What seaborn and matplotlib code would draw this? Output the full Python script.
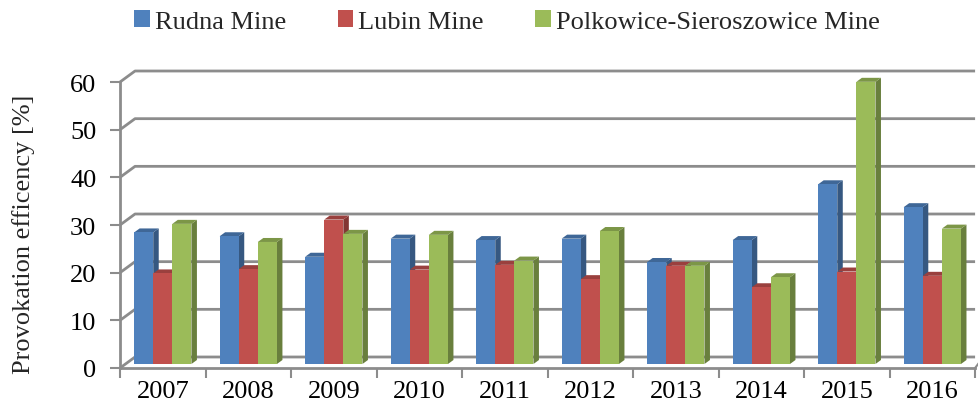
import numpy as np
import pandas as pd
import matplotlib
matplotlib.use("Agg")
import matplotlib.pyplot as plt
import matplotlib.colors as mcolors
import matplotlib.transforms as mtransforms
from matplotlib.patches import Polygon
import seaborn as sns

# values
years = ["2007", "2008", "2009", "2010", "2011", "2012", "2013", "2014", "2015", "2016"]
rudna = [27.6, 26.8, 22.5, 26.3, 26.0, 26.3, 21.4, 26.0, 37.7, 32.9]
lubin = [19.0, 19.9, 30.3, 19.8, 20.8, 17.8, 20.6, 16.1, 19.4, 18.5]
polkowice = [29.4, 25.6, 27.3, 27.1, 21.7, 27.9, 20.6, 18.2, 59.2, 28.4]
mines = ["Rudna Mine", "Lubin Mine", "Polkowice-Sieroszowice Mine"]
colors = ["#4F81BD", "#C0504D", "#9BBB59"]

df = pd.DataFrame({
    "year": years * 3,
    "mine": np.repeat(mines, len(years)),
    "value": rudna + lubin + polkowice,
})

sns.set_theme(style="white")
plt.rcParams["font.family"] = ["Liberation Serif", "DejaVu Serif"]

fig = plt.figure(figsize=(9.79, 4.14), dpi=100)
ax = fig.add_axes([0.1226, 0.1087, 0.8734, 0.6908])

sns.barplot(data=df, x="year", y="value", hue="mine", palette=colors,
            width=0.67, saturation=1, ax=ax, legend=True, linewidth=0)

ax.set_ylim(0, 60)
ax.set_xlim(-0.5, len(years) - 0.5)

# bars stand a little behind the front edge of the floor
lift = mtransforms.ScaledTranslation(0, 4 / 100, fig.dpi_scale_trans)
bar_tr = ax.transData + lift

# fake 3D depth for each bar: side and top faces from the patch geometry
ppx = 855 / len(years)       # pixels per category
ppy = ax.bbox.height / 60    # pixels per unit
dx = 5.5 / ppx
dy = 4.0 / ppy
for bar in list(ax.patches):
    h = bar.get_height()
    if h <= 0:
        continue
    x0 = bar.get_x()
    w = bar.get_width()
    c = np.array(mcolors.to_rgb(bar.get_facecolor()))
    side = Polygon([(x0 + w, 0), (x0 + w + dx, dy), (x0 + w + dx, h + dy), (x0 + w, h)],
                   closed=True, facecolor=c * 0.68, edgecolor="none", zorder=2.5,
                   clip_on=False, transform=bar_tr)
    top = Polygon([(x0, h), (x0 + dx, h + dy), (x0 + w + dx, h + dy), (x0 + w, h)],
                  closed=True, facecolor=c * 0.8, edgecolor="none", zorder=2.6,
                  clip_on=False, transform=bar_tr)
    ax.add_patch(side)
    ax.add_patch(top)
    bar.set_transform(bar_tr)
    bar.set_clip_on(False)
    bar.set_zorder(2.7)

# back wall gridlines with the oblique start
grid_col = "#8C8C8C"
wx = 15 / ax.bbox.width
wy = 11 / ppy
ytr = ax.get_yaxis_transform()
for v in range(0, 61, 10):
    ax.plot([0, wx, 1], [v, v + wy, v + wy], color=grid_col, lw=2,
            transform=ytr, clip_on=False, zorder=1, solid_capstyle="butt")
ax.plot([1, 1 + 5 / ax.bbox.width], [0, wy * 0.6], color=grid_col, lw=1.5,
        transform=ytr, clip_on=False, zorder=1)

for s in ["top", "right"]:
    ax.spines[s].set_visible(False)
for s in ["left", "bottom"]:
    ax.spines[s].set_color(grid_col)
    ax.spines[s].set_linewidth(2)

ax.set_yticks(range(0, 61, 10))
ax.tick_params(axis="y", length=7, width=1.5, color=grid_col, direction="out",
               pad=10, labelsize=19, labelcolor="black", left=True)
ax.set_xticks(np.arange(-0.5, len(years), 1), minor=True)
ax.tick_params(axis="x", which="major", length=0, pad=9, labelsize=19, labelcolor="black")
ax.tick_params(axis="x", which="minor", length=7, width=1.5, color=grid_col,
               direction="out", bottom=True)

ax.set_xlabel("")
ax.set_ylabel("Provokation efficency [%]", fontsize=19)
ax.yaxis.set_label_coords(-0.099, 0.47)

leg = ax.legend(loc="center", bbox_to_anchor=(0.518, 0.946), bbox_transform=fig.transFigure,
                ncol=3, frameon=False, fontsize=19, handlelength=0.58, handleheight=0.58,
                handletextpad=0.2, columnspacing=1.95, borderaxespad=0, borderpad=0)

fig.savefig("out.png", dpi=100)
